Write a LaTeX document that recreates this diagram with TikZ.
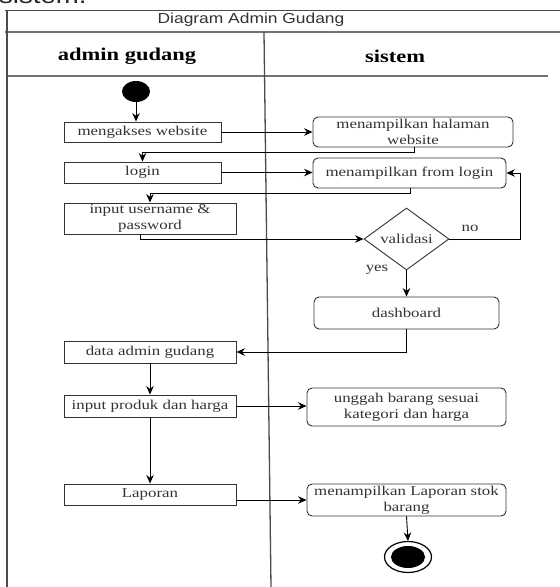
\documentclass[tikz,border=0pt]{standalone}
\usepackage{fontspec}
\setmainfont{Liberation Serif}[FakeStretch=1.25]
\newfontfamily\titlefont{Liberation Sans}[FakeStretch=1.2]
\usetikzlibrary{shapes.geometric,arrows.meta}

\tikzset{
  frameline/.style={draw=black!70, line width=1pt},
  lanehead/.style={font=\fontsize{18}{20}\selectfont\bfseries, text=black},
  act/.style={draw=black!80, line width=0.9pt, fill=white, inner sep=1pt,
    font=\fontsize{13.5}{16}\selectfont, text=black!80, align=center},
  userbox/.style={act, rectangle},
  sysbox/.style={act, rectangle, rounded corners=5pt},
  decision/.style={act, diamond, inner sep=0pt, minimum width=85pt, minimum height=50pt},
  flow/.style={draw=black, line width=0.9pt, -{Stealth[length=8.5pt,width=7.5pt]}},
  guard/.style={font=\fontsize{13.5}{16}\selectfont, text=black!80},
}

\begin{document}
\begin{tikzpicture}[x=1pt, y=-1pt]
  \useasboundingbox (0,0) rectangle (560,587);
  \clip (0,0) rectangle (560,587);
  \fill[white] (0,0) rectangle (560,587);

  % caption line above the figure, partly cut off
  \node[anchor=base west, inner sep=0pt, font=\titlefont\fontsize{23}{25}\selectfont, text=black!85]
    (caption) at (-1,3) {sistem.};

  % swimlane frame
  \draw[frameline] (5,10) -- (560,10);
  \draw[frameline, draw=black!55, line width=1.4pt] (5,32) -- (560,32);
  \draw[frameline, draw=black!55, line width=1.2pt] (7,76) -- (548,76);
  \draw[frameline, line width=1.3pt] (7,10) -- (7,587);
  \draw[frameline, line width=1.3pt] (264,32) -- (271,587);

  \node[font=\titlefont\fontsize{14.5}{16}\selectfont, text=black!80] (title) at (251,20) {Diagram Admin Gudang};
  \node[lanehead] (laneA) at (127,56) {admin gudang};
  \node[lanehead] (laneB) at (395,56) {sistem};

  % admin gudang lane
  \node[ellipse, fill=black, minimum width=28pt, minimum height=21pt, inner sep=0pt] (start) at (136,91.5) {};
  \node[userbox, minimum width=157pt, minimum height=20pt] (akses) at (142.5,132) {mengakses website};
  \node[userbox, minimum width=157pt, minimum height=21pt] (login) at (142.5,172.5) {login};
  \node[userbox, minimum width=172pt, minimum height=31pt] (inputuser) at (150,218.5) {input username \&\\password};
  \node[userbox, minimum width=172pt, minimum height=22pt] (dataadmin) at (150,352) {data admin gudang};
  \node[userbox, minimum width=172pt, minimum height=22pt] (produk) at (150,406) {input produk dan harga};
  \node[userbox, minimum width=172pt, minimum height=21pt] (laporan) at (150,494.5) {Laporan};

  % sistem lane
  \node[sysbox, minimum width=200pt, minimum height=30pt] (halaman) at (413,132) {menampilkan halaman\\website};
  \node[sysbox, minimum width=193pt, minimum height=30pt] (formlogin) at (409.5,173) {menampilkan from login};
  \node[decision] (validasi) at (406.5,239) {validasi};
  \node[sysbox, minimum width=185pt, minimum height=32pt] (dashboard) at (406.5,313) {dashboard};
  \node[sysbox, minimum width=199pt, minimum height=38pt] (unggah) at (406.5,407) {unggah barang sesuai\\kategori dan harga};
  \node[sysbox, minimum width=199pt, minimum height=32pt] (stok) at (406.5,500) {menampilkan Laporan stok\\barang};
  \node[ellipse, draw=black, line width=1.2pt, fill=white, minimum width=47pt, minimum height=31pt, inner sep=0pt] (finish) at (408,557) {};
  \node[ellipse, fill=black, minimum width=34pt, minimum height=22pt, inner sep=0pt] (finishdot) at (408,557) {};

  % bend points
  \coordinate (b1) at (414,152);
  \coordinate (b2) at (410,193);
  \coordinate (b3) at (520,239);
  \coordinate (b4) at (140,239);

  % control flow
  \draw[flow] (start.south) -- (start.south |- akses.north);
  \draw[flow] (akses.east) -- (halaman.west);
  \draw[flow] (b1 |- halaman.south) -- (b1) -| (login.north);
  \draw[flow] (login.east) -- (formlogin.west |- login.east);
  \draw[flow] (b2 |- formlogin.south) -- (b2) -| (inputuser.north);
  \draw[flow] (b4 |- inputuser.south) -- (b4) -- (validasi.west);
  \draw[flow] (validasi.east) -- (b3) |- (formlogin.east);
  \draw[flow] (validasi.south) -- (dashboard.north);
  \draw[flow] (dashboard.south) |- (dataadmin.east);
  \draw[flow] (dataadmin.south) -- (produk.north);
  \draw[flow] (produk.east) -- (unggah.west |- produk.east);
  \draw[flow] (produk.south) -- (laporan.north);
  \draw[flow] (laporan.east |- stok.west) -- (stok.west);
  \draw[flow] (stok.south) -- (finish.north);

  % guard labels
  \node[guard] (nolabel) at (470,228) {no};
  \node[guard] (yeslabel) at (377,270) {yes};
\end{tikzpicture}
\end{document}
